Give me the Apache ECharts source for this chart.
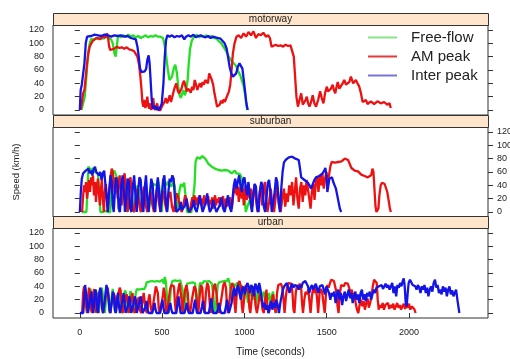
<!DOCTYPE html>
<html>
<head>
<meta charset="utf-8">
<script src="https://cdn.jsdelivr.net/npm/echarts@6/dist/echarts.min.js"></script>
<style>
  html, body { margin: 0; padding: 0; background: #fff; }
  #chart { width: 510px; height: 359px; }
</style>
</head>
<body>
<div id="chart"></div>
<script>
// panels, series names and tick labels
const panelNames = ['motorway', 'suburban', 'urban'];
const seriesNames = ['Free-flow', 'AM peak', 'Inter peak'];
const timeTicks = [0, 500, 1000, 1500, 2000];
const speedTicks = [0, 20, 40, 60, 80, 100, 120];

// [time (s), speed (km/h)]
const motorwayFreeFlow = [[10,0],[20,3],[30,20],[40,50],[50,85],[60,100],[70,107],[85,105],[100,108],[115,106],[130,109],[145,107],[160,110],[175,108],[190,106],[200,100],[210,85],[218,80],[225,95],[232,112],[240,115],[250,109],[265,112],[280,110],[295,113],[310,110],[325,112],[340,109],[355,111],[370,108],[385,110],[400,112],[415,109],[430,111],[445,110],[460,112],[475,110],[490,110],[505,108],[515,98],[525,80],[535,60],[545,45],[552,42],[560,50],[570,62],[580,68],[590,55],[598,35],[606,22],[614,18],[622,25],[630,30],[638,22],[646,28],[655,45],[662,70],[670,92],[680,104],[695,110],[710,113],[725,109],[740,111],[755,110],[770,112],[785,109],[800,111],[815,108],[830,107],[845,103],[860,100],[875,94],[890,88],[905,80],[920,74],[935,70],[950,66],[962,58],[975,52],[985,44],[995,36],[1005,22],[1012,8],[1018,0]];
const motorwayAmPeak = [[5,0],[12,10],[20,25],[28,30],[36,50],[44,70],[52,85],[60,95],[70,100],[80,104],[95,107],[110,108],[125,106],[140,110],[155,109],[165,115],[172,108],[178,95],[185,90],[195,93],[210,92],[225,95],[240,93],[255,94],[270,92],[285,94],[300,91],[315,90],[330,88],[340,85],[350,80],[360,68],[368,50],[375,30],[380,12],[386,5],[392,15],[398,3],[404,8],[410,20],[416,6],[422,2],[428,10],[434,0],[440,5],[446,18],[452,4],[458,0],[464,2],[470,10],[476,0],[482,3],[490,0],[498,5],[506,2],[514,12],[522,18],[530,10],[538,15],[546,22],[554,12],[562,20],[570,28],[578,35],[586,40],[594,30],[602,25],[610,22],[618,32],[626,40],[634,44],[642,35],[650,28],[658,32],[666,30],[674,26],[682,35],[690,30],[698,45],[706,38],[714,30],[722,36],[730,40],[738,34],[746,42],[754,38],[762,45],[770,48],[778,40],[786,55],[794,50],[802,45],[810,38],[818,25],[826,15],[834,5],[842,3],[850,8],[858,14],[866,10],[874,16],[882,12],[890,18],[898,20],[906,28],[914,38],[922,60],[930,85],[940,100],[952,110],[965,112],[980,108],[995,115],[1010,110],[1025,117],[1040,112],[1055,118],[1070,108],[1085,114],[1100,112],[1115,116],[1130,110],[1145,112],[1155,108],[1165,95],[1175,96],[1190,98],[1205,96],[1220,97],[1235,95],[1250,98],[1265,96],[1280,97],[1292,94],[1300,80],[1308,50],[1316,20],[1325,5],[1335,15],[1345,25],[1355,8],[1365,5],[1372,15],[1379,20],[1387,10],[1395,5],[1405,12],[1415,22],[1425,10],[1435,5],[1448,15],[1460,28],[1470,18],[1480,10],[1490,25],[1500,35],[1508,28],[1516,25],[1526,32],[1536,38],[1544,30],[1552,25],[1560,35],[1567,42],[1577,32],[1587,30],[1597,40],[1607,45],[1617,38],[1627,35],[1637,42],[1647,50],[1655,44],[1661,40],[1669,38],[1677,45],[1687,40],[1698,35],[1708,25],[1718,12],[1728,10],[1738,15],[1748,9],[1758,10],[1768,13],[1778,14],[1788,9],[1798,8],[1808,13],[1819,15],[1829,10],[1839,9],[1849,12],[1859,13],[1867,8],[1875,6],[1882,10],[1889,3]];
const motorwayInterPeak = [[0,0],[5,30],[12,38],[20,40],[28,70],[36,100],[44,110],[55,112],[70,111],[90,113],[110,112],[130,111],[150,113],[170,112],[190,110],[210,112],[230,111],[250,112],[270,110],[290,111],[310,108],[325,107],[340,106],[350,95],[358,80],[366,62],[375,57],[385,55],[395,58],[403,62],[410,75],[418,82],[424,70],[430,45],[437,15],[443,2],[450,0],[458,6],[466,0],[474,4],[482,0],[490,3],[498,10],[508,40],[516,80],[524,105],[532,112],[545,110],[560,112],[575,109],[590,111],[605,110],[620,112],[635,106],[645,110],[660,112],[675,110],[690,113],[705,109],[720,111],[735,112],[750,110],[765,109],[780,111],[795,108],[810,110],[825,109],[840,108],[855,107],[867,106],[880,100],[892,92],[900,80],[910,65],[920,55],[930,50],[940,48],[950,55],[960,65],[970,70],[980,72],[988,62],[996,45],[1004,28],[1012,10],[1020,0]];

const suburbanFreeFlow = [[10,0],[25,0],[40,0],[46,30],[52,68],[60,65],[70,62],[80,66],[90,60],[100,63],[110,58],[118,30],[125,0],[140,0],[155,2],[170,0],[185,0],[192,40],[200,58],[210,62],[220,55],[228,50],[234,20],[240,0],[250,0],[258,35],[266,48],[274,30],[282,5],[290,0],[298,30],[306,45],[314,38],[322,10],[330,0],[340,25],[350,40],[358,32],[366,5],[374,0],[384,20],[394,38],[402,42],[410,15],[418,0],[428,0],[436,30],[446,42],[456,45],[466,40],[474,48],[482,38],[490,10],[498,0],[506,35],[516,44],[526,40],[536,46],[546,42],[556,38],[566,45],[576,40],[586,15],[594,0],[604,30],[614,42],[624,38],[634,44],[644,20],[652,0],[664,0],[678,0],[690,0],[697,40],[703,75],[712,82],[722,85],[732,80],[742,84],[752,82],[762,80],[772,78],[782,72],[792,70],[802,68],[812,70],[822,65],[832,62],[842,63],[852,60],[862,62],[872,61],[882,63],[892,60],[902,62],[912,60],[922,58],[932,60],[942,62],[952,58],[962,60],[972,57],[982,52],[992,55],[1000,30],[1008,0],[1016,0],[1024,12],[1032,18],[1040,10],[1048,0]];
const suburbanAmPeak = [[14,0],[20,25],[26,40],[32,30],[38,45],[44,20],[50,35],[56,48],[62,30],[68,52],[74,40],[80,55],[86,25],[92,45],[98,15],[104,38],[110,50],[116,28],[122,10],[128,35],[134,48],[140,20],[146,0],[152,30],[158,42],[164,22],[170,0],[176,25],[182,40],[188,55],[194,65],[200,60],[206,45],[212,30],[218,52],[224,40],[230,20],[236,45],[242,55],[248,35],[254,10],[260,30],[266,50],[272,58],[278,42],[284,20],[290,0],[296,25],[302,48],[308,52],[314,30],[320,5],[330,0],[340,20],[350,35],[360,15],[370,0],[380,25],[390,38],[400,10],[410,0],[420,18],[430,30],[440,12],[450,0],[460,22],[470,35],[480,15],[490,0],[500,20],[510,32],[520,10],[530,0],[540,25],[550,30],[560,8],[570,0],[580,15],[590,28],[600,20],[610,5],[620,0],[630,12],[640,25],[650,18],[660,5],[670,0],[678,15],[684,22],[690,12],[696,25],[702,18],[708,10],[714,22],[720,15],[726,25],[732,12],[738,20],[744,8],[750,18],[756,25],[762,10],[768,20],[774,14],[780,24],[786,8],[792,18],[798,12],[804,22],[810,5],[816,18],[822,25],[828,10],[834,20],[840,14],[846,22],[852,8],[858,18],[864,12],[870,24],[876,6],[882,16],[888,20],[894,8],[900,18],[906,10],[912,22],[918,14],[924,5],[930,20],[936,35],[942,28],[948,42],[954,25],[960,38],[966,15],[972,30],[978,40],[984,20],[990,35],[996,10],[1002,28],[1008,40],[1014,18],[1020,30],[1026,42],[1032,20],[1040,35],[1048,8],[1056,30],[1064,42],[1072,15],[1080,0],[1090,25],[1100,40],[1108,10],[1116,30],[1124,45],[1132,20],[1140,0],[1150,15],[1160,35],[1170,10],[1180,0],[1190,22],[1200,38],[1210,12],[1220,0],[1230,20],[1240,35],[1248,8],[1256,28],[1264,15],[1272,40],[1280,25],[1290,45],[1298,10],[1306,30],[1314,52],[1322,20],[1330,5],[1338,35],[1346,45],[1354,15],[1362,40],[1370,25],[1378,48],[1386,50],[1394,20],[1402,5],[1410,30],[1418,42],[1426,18],[1434,45],[1442,52],[1450,30],[1458,55],[1466,40],[1474,58],[1482,35],[1490,50],[1498,60],[1506,42],[1514,55],[1522,68],[1530,75],[1540,76],[1550,74],[1560,77],[1570,75],[1580,78],[1590,76],[1600,79],[1610,80],[1620,77],[1630,78],[1640,72],[1650,66],[1660,64],[1670,62],[1680,60],[1690,61],[1700,58],[1710,56],[1720,57],[1730,54],[1740,55],[1750,52],[1760,50],[1770,55],[1778,65],[1784,60],[1790,35],[1796,10],[1802,0],[1808,0],[1814,5],[1820,25],[1828,40],[1836,44],[1844,46],[1852,42],[1860,45],[1868,30],[1876,18],[1884,5],[1890,0]];
const suburbanInterPeak = [[0,0],[6,30],[12,50],[20,58],[28,55],[36,62],[44,60],[52,65],[60,58],[68,62],[76,55],[84,64],[92,68],[100,60],[108,62],[116,55],[124,60],[132,48],[140,58],[148,62],[156,40],[164,20],[170,0],[178,30],[186,55],[194,45],[200,10],[206,0],[214,35],[222,52],[230,40],[236,5],[244,0],[252,40],[260,55],[268,30],[274,0],[282,20],[290,50],[298,45],[306,5],[314,0],[322,38],[330,55],[338,25],[346,0],[354,30],[362,52],[370,48],[378,10],[386,0],[394,35],[402,55],[410,20],[418,0],[426,28],[434,50],[442,42],[450,8],[458,0],[466,32],[474,52],[482,30],[490,0],[498,25],[506,48],[514,55],[522,18],[530,0],[538,30],[546,50],[554,45],[562,55],[570,50],[578,20],[586,0],[596,0],[606,5],[614,15],[620,3],[630,0],[640,10],[648,20],[656,5],[664,0],[674,0],[684,8],[692,18],[700,5],[710,0],[720,12],[730,25],[738,10],[746,0],[756,0],[766,15],[774,28],[782,10],[790,0],[800,5],[810,18],[820,8],[830,0],[840,0],[850,10],[860,22],[870,6],[880,0],[890,12],[900,25],[910,8],[920,0],[928,20],[936,40],[944,50],[952,35],[960,45],[968,55],[976,40],[984,30],[992,48],[1000,52],[1008,38],[1016,25],[1024,45],[1032,42],[1040,10],[1046,0],[1054,25],[1062,42],[1070,38],[1078,5],[1086,0],[1094,30],[1102,45],[1110,40],[1118,8],[1126,0],[1134,20],[1142,44],[1150,48],[1158,30],[1166,0],[1176,0],[1184,30],[1192,52],[1200,45],[1208,15],[1216,0],[1224,35],[1232,60],[1240,74],[1250,78],[1260,80],[1270,82],[1280,81],[1290,83],[1300,82],[1310,80],[1320,82],[1330,78],[1338,65],[1345,52],[1355,50],[1365,48],[1375,46],[1385,44],[1395,40],[1405,35],[1415,38],[1425,48],[1435,52],[1445,50],[1455,54],[1465,56],[1475,58],[1485,62],[1492,66],[1498,55],[1504,30],[1510,40],[1516,50],[1524,48],[1532,52],[1540,45],[1548,40],[1556,35],[1564,25],[1572,15],[1580,5],[1588,0]];

const urbanFreeFlow = [[20,0],[26,25],[32,38],[38,30],[44,0],[52,0],[58,28],[64,36],[70,32],[76,10],[82,0],[90,20],[96,35],[102,38],[108,25],[114,0],[122,0],[128,30],[134,38],[140,36],[146,15],[152,0],[160,22],[166,34],[172,30],[178,5],[186,0],[194,25],[200,36],[206,33],[212,10],[220,0],[228,20],[234,32],[240,35],[246,28],[252,5],[260,0],[268,25],[274,34],[280,30],[286,8],[294,0],[302,22],[308,33],[314,36],[320,20],[326,0],[334,0],[340,30],[346,36],[352,38],[360,35],[368,37],[376,36],[384,38],[392,36],[400,40],[406,46],[414,45],[422,47],[430,46],[438,48],[446,45],[454,47],[462,46],[470,48],[478,45],[486,47],[494,46],[502,50],[510,44],[516,54],[522,48],[528,30],[534,5],[540,0],[548,20],[554,40],[562,48],[570,46],[578,49],[586,47],[594,48],[602,46],[610,49],[618,47],[624,35],[630,10],[636,0],[644,25],[652,44],[660,47],[668,45],[676,48],[684,46],[692,48],[700,45],[708,20],[714,0],[722,30],[730,45],[738,47],[746,44],[754,48],[762,46],[770,47],[778,45],[786,48],[794,46],[802,44],[810,30],[816,10],[822,0],[830,20],[838,42],[846,46],[854,44],[862,47],[870,45],[878,48],[886,46],[894,48],[902,52],[910,45],[918,30],[926,20],[934,35],[942,44],[950,40],[958,46],[966,38],[974,25],[982,42],[990,35],[998,20],[1006,38],[1014,30],[1022,15],[1030,35],[1038,25],[1046,38],[1054,20],[1062,30],[1070,12],[1078,28],[1086,35],[1094,18],[1102,30],[1110,25],[1118,32],[1126,15],[1134,28],[1142,20],[1150,30],[1158,10],[1166,25],[1174,32],[1182,15],[1190,5],[1196,0]];
const urbanAmPeak = [[14,0],[20,30],[26,40],[32,35],[38,10],[44,0],[50,25],[56,38],[62,32],[68,5],[74,0],[82,30],[88,36],[94,20],[100,0],[108,0],[116,28],[122,35],[128,30],[134,8],[140,0],[150,0],[158,25],[164,34],[170,38],[176,20],[182,0],[192,0],[200,22],[206,30],[212,25],[218,0],[228,0],[236,30],[242,38],[248,34],[254,10],[260,0],[270,0],[278,20],[284,28],[290,22],[296,0],[306,0],[314,25],[320,30],[326,8],[334,0],[344,0],[352,18],[358,24],[364,5],[372,0],[382,20],[388,30],[394,28],[400,5],[408,0],[418,22],[424,28],[430,10],[438,0],[448,0],[456,30],[462,40],[468,42],[474,30],[480,5],[486,0],[496,0],[504,25],[510,38],[516,30],[522,5],[530,0],[540,20],[548,35],[556,42],[564,45],[572,40],[578,15],[584,0],[592,25],[600,38],[606,45],[612,42],[618,20],[624,0],[632,20],[640,35],[648,42],[656,30],[662,5],[670,0],[680,18],[688,30],[696,40],[704,36],[712,15],[720,0],[728,25],[736,42],[744,38],[750,10],[758,0],[766,30],[774,45],[782,40],[790,12],[798,0],[806,22],[814,40],[822,44],[830,30],[838,8],[846,0],[856,0],[864,28],[872,42],[880,46],[888,38],[894,10],[900,0],[910,20],[918,38],[926,45],[934,40],[940,15],[946,0],[954,30],[962,44],[970,48],[978,40],[984,12],[990,0],[1000,25],[1008,42],[1016,45],[1024,30],[1030,8],[1036,0],[1044,20],[1052,40],[1060,35],[1068,10],[1076,0],[1086,15],[1094,30],[1102,22],[1110,5],[1118,0],[1126,20],[1134,35],[1140,10],[1148,0],[1158,0],[1166,18],[1174,28],[1182,10],[1190,0],[1198,30],[1206,42],[1214,40],[1222,44],[1230,38],[1238,20],[1244,0],[1252,25],[1260,40],[1268,45],[1276,42],[1284,44],[1292,30],[1298,5],[1304,0],[1312,30],[1320,42],[1328,38],[1336,44],[1344,40],[1350,15],[1356,0],[1364,20],[1372,32],[1380,28],[1388,35],[1396,15],[1402,0],[1410,25],[1418,38],[1426,30],[1434,40],[1442,20],[1448,0],[1456,28],[1464,36],[1472,32],[1480,15],[1488,0],[1496,30],[1504,42],[1512,38],[1520,45],[1528,50],[1536,52],[1544,48],[1552,50],[1560,30],[1566,10],[1572,0],[1580,30],[1588,42],[1596,44],[1604,40],[1612,45],[1620,42],[1628,44],[1636,38],[1644,30],[1652,35],[1660,25],[1668,30],[1676,15],[1684,5],[1692,0],[1700,12],[1708,20],[1716,10],[1724,18],[1732,5],[1740,15],[1748,22],[1756,8],[1764,15],[1772,25],[1780,40],[1788,50],[1796,52],[1804,45],[1810,20],[1816,5],[1824,12],[1832,8],[1840,15],[1848,5],[1856,12],[1864,10],[1872,15],[1880,6],[1888,12],[1896,8],[1904,14],[1912,5],[1920,10],[1928,15],[1936,8],[1944,12],[1952,5],[1960,10],[1968,14],[1976,6],[1984,12],[1992,8],[2000,14],[2008,5],[2016,10],[2024,12],[2032,6],[2040,0]];
const urbanInterPeak = [[0,0],[10,0],[20,0],[26,20],[32,42],[38,40],[44,15],[50,0],[58,0],[64,25],[70,32],[76,10],[82,0],[88,20],[94,35],[100,30],[106,5],[112,0],[118,25],[124,38],[130,32],[136,8],[142,0],[150,15],[156,30],[162,42],[168,40],[174,25],[180,5],[186,0],[194,18],[200,32],[206,28],[212,5],[218,0],[226,22],[232,30],[238,10],[244,0],[252,0],[260,20],[266,30],[272,15],[278,0],[286,0],[294,12],[300,25],[306,18],[312,0],[320,0],[328,15],[334,25],[340,20],[346,0],[356,0],[364,18],[370,25],[376,10],[382,0],[392,0],[400,10],[406,18],[412,5],[418,0],[430,0],[440,0],[448,8],[454,15],[460,5],[466,0],[478,0],[488,0],[496,12],[502,20],[508,8],[514,0],[526,0],[536,0],[544,10],[550,15],[556,5],[562,0],[574,0],[586,0],[594,15],[600,25],[606,12],[612,0],[624,0],[636,0],[644,8],[650,15],[656,5],[662,0],[674,0],[686,0],[694,12],[700,20],[706,8],[712,0],[724,0],[734,0],[742,10],[748,18],[754,5],[760,0],[772,0],[784,0],[792,12],[798,22],[804,10],[810,0],[822,0],[832,0],[840,8],[846,15],[852,5],[858,0],[870,0],[880,0],[888,10],[894,20],[900,8],[906,0],[914,0],[922,15],[930,30],[938,38],[946,25],[954,35],[962,42],[970,30],[978,20],[986,35],[994,40],[1002,28],[1010,38],[1018,45],[1026,40],[1034,30],[1042,42],[1050,38],[1058,25],[1066,44],[1074,40],[1082,30],[1090,45],[1098,35],[1106,20],[1114,8],[1122,15],[1130,5],[1138,12],[1146,0],[1154,10],[1162,18],[1170,5],[1178,15],[1186,8],[1194,20],[1202,12],[1210,0],[1218,15],[1226,25],[1234,35],[1242,40],[1250,38],[1258,45],[1266,42],[1274,30],[1282,40],[1290,44],[1298,38],[1306,42],[1314,45],[1322,40],[1330,35],[1338,42],[1346,38],[1354,45],[1362,42],[1370,48],[1378,50],[1386,40],[1394,30],[1402,38],[1410,42],[1418,35],[1426,40],[1434,44],[1442,36],[1450,30],[1458,40],[1466,38],[1474,42],[1482,35],[1490,28],[1498,40],[1506,38],[1514,30],[1522,20],[1530,30],[1538,25],[1546,32],[1554,15],[1562,28],[1570,35],[1578,20],[1586,30],[1594,12],[1602,25],[1610,32],[1618,18],[1626,28],[1634,35],[1642,22],[1650,30],[1658,15],[1666,25],[1674,32],[1682,20],[1690,28],[1698,15],[1706,30],[1714,35],[1722,20],[1730,28],[1738,18],[1746,30],[1754,25],[1762,32],[1770,20],[1778,28],[1786,35],[1794,30],[1802,38],[1810,35],[1818,40],[1826,38],[1834,42],[1842,36],[1850,40],[1858,44],[1866,38],[1874,42],[1882,35],[1890,40],[1898,45],[1906,30],[1914,40],[1922,25],[1930,42],[1938,38],[1946,45],[1954,40],[1962,48],[1968,52],[1974,40],[1980,15],[1986,10],[1992,30],[1998,45],[2006,50],[2014,46],[2022,42],[2030,45],[2038,40],[2046,35],[2054,42],[2062,38],[2070,30],[2078,40],[2086,35],[2094,42],[2102,30],[2110,38],[2118,25],[2126,35],[2134,40],[2142,32],[2150,45],[2158,50],[2166,38],[2174,42],[2182,30],[2190,35],[2198,28],[2206,40],[2214,32],[2222,38],[2230,25],[2238,35],[2246,40],[2254,28],[2262,34],[2270,25],[2278,30],[2286,35],[2294,20],[2300,10],[2306,0]];

const panelData = [
    [motorwayFreeFlow, motorwayAmPeak, motorwayInterPeak],
    [suburbanFreeFlow, suburbanAmPeak, suburbanInterPeak],
    [urbanFreeFlow, urbanAmPeak, urbanInterPeak],
];

const lineColors = ['#22E022', '#EE1111', '#1414E6'];
const legendColors = ['#86E486', '#E23A3A', '#7676DA'];
const font = 'Liberation Sans, Arial, sans-serif';
const ink = '#333';

const X_MIN = -163, X_MAX = 2480;
const Y_MIN = -7.5, Y_MAX = 127.5;
const LEFT = 53, WIDTH = 435;
const panelTops = [25, 127, 228];
const PANEL_H = 90;
const STRIP_H = 12;

// plain numbers, no thousands separator
const plain = (v) => String(v);

const grids = [];
const xAxes = [];
const yAxes = [];
const series = [];
const graphics = [];

panelNames.forEach((name, i) => {
    const top = panelTops[i];
    grids.push({
        left: LEFT, top: top, width: WIDTH, height: PANEL_H,
        show: true, borderColor: ink, borderWidth: 1,
        outerBoundsMode: 'none',
    });
    const isBottom = i === panelNames.length - 1;
    xAxes.push({
        type: 'value', gridIndex: i, min: X_MIN, max: X_MAX,
        splitLine: { show: false },
        axisLine: { show: false },
        axisTick: { show: isBottom, length: 5, lineStyle: { color: ink }, customValues: timeTicks },
        axisLabel: { show: isBottom, margin: 10, color: '#222', fontSize: 9, fontFamily: font, customValues: timeTicks, formatter: plain },
        name: isBottom ? 'Time (seconds)' : '',
        nameLocation: 'middle', nameGap: 29,
        nameTextStyle: { color: '#222', fontSize: 10, fontFamily: font },
    });
    // lattice alternates labels: left on 1st/3rd panel, right on 2nd
    const labelLeft = i !== 1;
    ['left', 'right'].forEach((pos) => {
        const showLabel = (pos === 'left') === labelLeft;
        yAxes.push({
            type: 'value', gridIndex: i, position: pos, min: Y_MIN, max: Y_MAX,
            splitLine: { show: false },
            axisLine: { show: false },
            axisTick: { show: true, length: 5, lineStyle: { color: ink }, customValues: speedTicks },
            axisLabel: { show: showLabel, margin: 9, color: '#222', fontSize: 9, fontFamily: font, customValues: speedTicks, formatter: plain },
        });
    });
    panelData[i].forEach((data, k) => {
        series.push({
            type: 'line', name: seriesNames[k],
            xAxisIndex: i, yAxisIndex: i * 2,
            data: data, showSymbol: false, symbol: 'none',
            lineStyle: { color: lineColors[k], width: 2.3 },
            itemStyle: { color: lineColors[k] },
            z: 2 + k,
        });
    });
    // strip header
    graphics.push({
        type: 'rect', left: LEFT, top: top - STRIP_H,
        shape: { width: WIDTH, height: STRIP_H },
        style: { fill: '#FFE5CC', stroke: ink, lineWidth: 1 },
        z: 10,
    });
    graphics.push({
        type: 'text', x: LEFT + WIDTH / 2, y: top - STRIP_H / 2,
        style: { text: name, fill: '#222', font: '10px ' + font, align: 'center', verticalAlign: 'middle' },
        z: 11,
    });
});

// top axis ticks sit above the first strip
grids.push({ left: LEFT, top: panelTops[0] - STRIP_H, width: WIDTH, height: STRIP_H, show: false, outerBoundsMode: 'none' });
xAxes.push({
    type: 'value', gridIndex: 3, position: 'top', min: X_MIN, max: X_MAX,
    splitLine: { show: false }, axisLine: { show: false },
    axisTick: { show: true, length: 5, lineStyle: { color: ink }, customValues: timeTicks },
    axisLabel: { show: false },
});
yAxes.push({ type: 'value', gridIndex: 3, show: false, min: 0, max: 1 });

graphics.push({
    type: 'text', x: 16.5, y: 172, rotation: Math.PI / 2,
    style: { text: 'Speed (km/h)', fill: '#222', font: '9.5px ' + font, align: 'center', verticalAlign: 'middle' },
});

const option = {
    animation: false,
    backgroundColor: '#fff',
    grid: grids,
    xAxis: xAxes,
    yAxis: yAxes,
    legend: {
        orient: 'vertical', left: 368, top: 30, padding: 0,
        icon: 'rect', itemWidth: 29, itemHeight: 2, itemGap: 4,
        textStyle: { color: '#222', fontSize: 15, fontFamily: font, padding: [0, 0, 0, 9] },
        data: seriesNames.map((n, k) => ({ name: n, itemStyle: { color: legendColors[k] } })),
        selectedMode: false,
    },
    graphic: graphics,
    series: series,
};

const chart = echarts.init(document.getElementById('chart'));
chart.setOption(option);
</script>
</body>
</html>
